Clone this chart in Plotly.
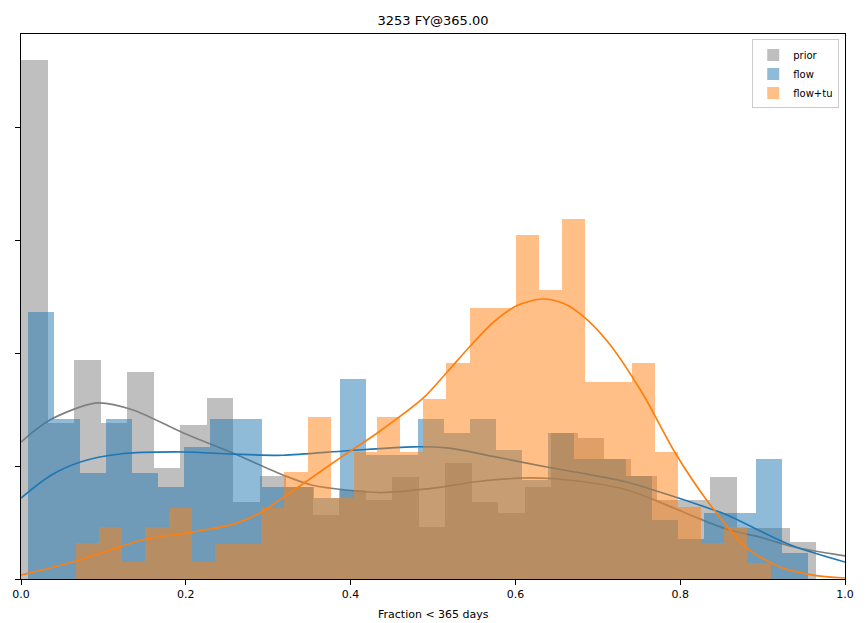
import plotly.graph_objects as go

# ---------------- data ----------------
series_names = ["prior", "flow", "flow+tu"]

# histogram bin layout per series (first edge, bin width), 30 bins each
prior_start, prior_width = 0.0, 0.03216
flow_start, flow_width = 0.0085, 0.03155
flowtu_start, flowtu_width = 0.0667, 0.0281

prior_density = [4.59, 1.38, 1.94, 1.38, 1.83, 0.98, 1.36, 1.60, 0.68, 0.91,
                 0.81, 0.57, 0.79, 0.70, 0.90, 0.46, 1.03, 0.68, 0.58, 0.81,
                 1.29, 1.25, 1.06, 0.91, 0.70, 0.70, 0.90, 0.45, 0.45, 0.33]
flow_density = [2.36, 1.42, 0.94, 1.42, 0.94, 0.81, 1.17, 1.42, 1.42, 0.81,
                0.81, 0.72, 1.77, 1.10, 1.10, 1.42, 1.29, 1.42, 1.14, 0.88,
                1.29, 1.06, 1.06, 0.91, 0.52, 0.35, 0.58, 0.58, 1.06, 0.23]
flowtu_density = [0.32, 0.46, 0.15, 0.46, 0.63, 0.15, 0.31, 0.31, 0.63, 0.95,
                  1.43, 0.72, 1.12, 1.43, 1.12, 1.59, 1.91, 2.40, 2.40, 3.04,
                  2.56, 3.19, 1.74, 1.74, 1.91, 1.12, 0.64, 0.32, 0.46, 0.14]

# KDE curves
prior_kde_x = [0.0, 0.035, 0.092, 0.136, 0.197, 0.257, 0.318, 0.354, 0.436, 0.496,
               0.557, 0.618, 0.678, 0.735, 0.775, 0.816, 0.857, 0.897, 0.937, 1.0]
prior_kde_y = [1.212, 1.407, 1.558, 1.496, 1.292, 1.115, 0.920, 0.830, 0.765, 0.800,
               0.865, 0.895, 0.865, 0.790, 0.680, 0.555, 0.440, 0.370, 0.285, 0.204]

flow_kde_x = [0.0, 0.035, 0.072, 0.120, 0.197, 0.257, 0.318, 0.396, 0.476, 0.517,
              0.573, 0.638, 0.678, 0.735, 0.775, 0.816, 0.857, 0.897, 0.937, 1.0]
flow_kde_y = [0.717, 0.912, 1.035, 1.106, 1.124, 1.105, 1.095, 1.135, 1.170, 1.160,
              1.085, 0.991, 0.940, 0.858, 0.770, 0.673, 0.566, 0.425, 0.292, 0.150]

flowtu_kde_x = [0.0, 0.035, 0.067, 0.108, 0.152, 0.208, 0.260, 0.294, 0.314, 0.354,
                0.387, 0.432, 0.488, 0.517, 0.545, 0.573, 0.602, 0.633, 0.658, 0.678,
                0.712, 0.754, 0.794, 0.834, 0.881, 0.921, 0.961, 1.0]
flowtu_kde_y = [0.035, 0.097, 0.159, 0.257, 0.354, 0.415, 0.490, 0.600, 0.700, 0.903,
                1.070, 1.290, 1.600, 1.830, 2.060, 2.270, 2.420, 2.478, 2.440, 2.350,
                2.100, 1.646, 1.115, 0.680, 0.274, 0.106, 0.035, 0.009]

x_tick_vals = [0.0, 0.2, 0.4, 0.6, 0.8, 1.0]
x_tick_text = ["0.0", "0.2", "0.4", "0.6", "0.8", "1.0"]
title_text = "3253 FY@365.00"
x_label = "Fraction < 365 days"

# ---------------- figure ----------------
FONT = "DejaVu Sans"
Y_TOP = 4.823

fill_colors = ["rgba(128,128,128,0.5)", "rgba(31,119,180,0.5)", "rgba(255,127,14,0.5)"]
line_colors = ["#808080", "#1f77b4", "#ff7f0e"]
starts = [prior_start, flow_start, flowtu_start]
widths = [prior_width, flow_width, flowtu_width]
dens = [prior_density, flow_density, flowtu_density]
kx = [prior_kde_x, flow_kde_x, flowtu_kde_x]
ky = [prior_kde_y, flow_kde_y, flowtu_kde_y]
yaxes = ["y", "y2", "y3"]

fig = go.Figure()
for i in range(3):
    centers = [starts[i] + widths[i] * (k + 0.5) for k in range(len(dens[i]))]
    fig.add_trace(go.Bar(
        x=centers, y=dens[i], width=[widths[i]] * len(dens[i]),
        name=series_names[i], marker=dict(color=fill_colors[i], line=dict(width=0)),
        yaxis=yaxes[i], showlegend=True, hoverinfo="skip"))
    fig.add_trace(go.Scatter(
        x=kx[i], y=ky[i], mode="lines",
        line=dict(color=line_colors[i], width=1.7, shape="spline", smoothing=0.8),
        yaxis=yaxes[i], showlegend=False, hoverinfo="skip"))

axis_common = dict(showgrid=False, zeroline=False)
fig.update_layout(
    width=866, height=623,
    margin=dict(l=21, r=21, t=34, b=44),
    paper_bgcolor="white", plot_bgcolor="white",
    barmode="overlay", bargap=0,
    font=dict(family=FONT, size=11, color="black"),
    title=dict(text=title_text, x=0.5, xref="paper", xanchor="center",
               y=1 - 20 / 623, yref="container", yanchor="middle",
               font=dict(family=FONT, size=13, color="black")),
    xaxis=dict(range=[0, 1], tickvals=x_tick_vals, ticktext=x_tick_text,
               ticks="outside", ticklen=5, tickcolor="black", showline=True,
               linecolor="black", linewidth=1, mirror=True,
               tickfont=dict(family=FONT, size=11, color="black"), **axis_common),
    yaxis=dict(range=[0, Y_TOP], tick0=0, dtick=1, ticks="outside", ticklen=5,
               tickcolor="black", showticklabels=False, showline=True,
               linecolor="black", linewidth=1, mirror=True, **axis_common),
    yaxis2=dict(range=[0, Y_TOP], overlaying="y", visible=False, **axis_common),
    yaxis3=dict(range=[0, Y_TOP], overlaying="y", visible=False, **axis_common),
    legend=dict(x=0.993, y=0.99, xanchor="right", yanchor="top",
                bgcolor="rgba(255,255,255,0.8)", bordercolor="#cccccc", borderwidth=1,
                font=dict(family=FONT, size=10, color="black"), tracegroupgap=0),
    annotations=[dict(text=x_label, x=0.5, xref="paper", y=-(614 - 579) / 545, yref="paper",
                      xanchor="center", yanchor="middle", showarrow=False,
                      font=dict(family=FONT, size=11, color="black"))],
)

fig.write_html("out.html", config={"displayModeBar": False},
               post_script="document.body.style.margin='0px';")
